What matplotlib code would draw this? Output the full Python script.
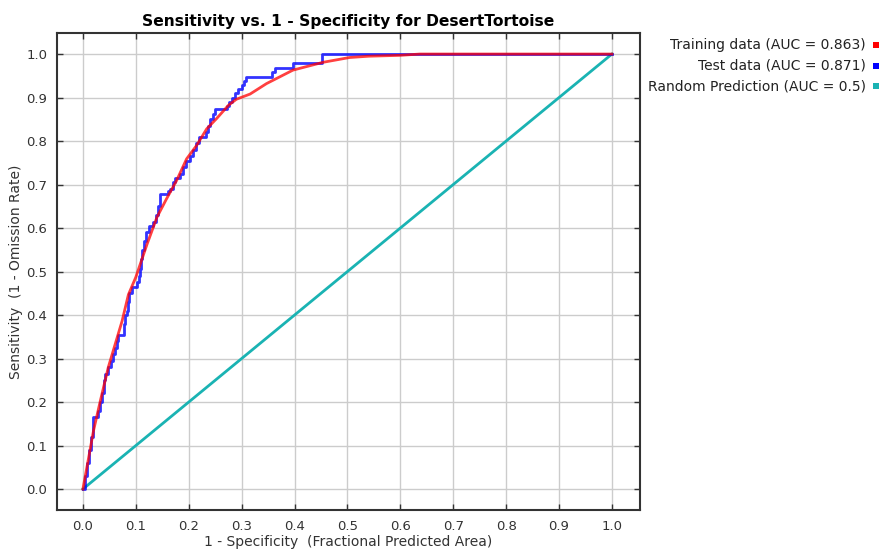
import numpy as np
import matplotlib
matplotlib.use('Agg')
import matplotlib.pyplot as plt
from matplotlib.patches import Rectangle

plt.rcParams['font.family'] = ['DejaVu Sans']

# ── Datos ────────────────────────────────────────────────────────────────────
# Test: curva escalonada (nivel y que se mantiene desde x hasta el siguiente x)
test_fpr = [0.0, 0.004, 0.008, 0.011, 0.015, 0.019, 0.02, 0.028, 0.032, 0.036,
            0.04, 0.042, 0.047, 0.053, 0.057, 0.061, 0.064, 0.067, 0.078, 0.08,
            0.083, 0.086, 0.087, 0.092, 0.102, 0.106, 0.108, 0.11, 0.112, 0.116,
            0.12, 0.124, 0.132, 0.138, 0.142, 0.145, 0.16, 0.165, 0.17, 0.174,
            0.184, 0.19, 0.195, 0.202, 0.208, 0.214, 0.219, 0.232, 0.236, 0.24,
            0.245, 0.25, 0.272, 0.276, 0.281, 0.287, 0.293, 0.3, 0.305, 0.309,
            0.357, 0.363, 0.397, 0.452, 1.0]
test_tpr = [0.0, 0.03, 0.06, 0.09, 0.12, 0.145, 0.165, 0.18, 0.2, 0.22,
            0.25, 0.265, 0.28, 0.295, 0.31, 0.325, 0.34, 0.355, 0.38, 0.4,
            0.41, 0.43, 0.45, 0.465, 0.475, 0.49, 0.505, 0.53, 0.55, 0.57,
            0.59, 0.605, 0.615, 0.63, 0.65, 0.678, 0.685, 0.69, 0.705, 0.715,
            0.725, 0.74, 0.755, 0.765, 0.78, 0.795, 0.81, 0.82, 0.835, 0.85,
            0.862, 0.873, 0.88, 0.89, 0.9, 0.91, 0.92, 0.929, 0.938, 0.948,
            0.959, 0.967, 0.98, 1.0, 1.0]

train_fpr = [0.0, 0.011, 0.02, 0.033, 0.048, 0.061, 0.074, 0.086, 0.1, 0.121,
             0.14, 0.158, 0.177, 0.196, 0.215, 0.234, 0.253, 0.275, 0.29,
             0.303, 0.316, 0.347, 0.397, 0.454, 0.504, 0.54, 0.6, 0.637, 1.0]
train_tpr = [0.0, 0.073, 0.134, 0.203, 0.28, 0.333, 0.386, 0.447, 0.487, 0.562,
             0.625, 0.667, 0.709, 0.759, 0.79, 0.828, 0.852, 0.882, 0.896,
             0.902, 0.908, 0.932, 0.963, 0.981, 0.992, 0.995, 0.997, 1.0, 1.0]

random_x = [0.0, 1.0]
random_y = [0.0, 1.0]

legend_labels = ['Training data (AUC = 0.863)',
                 'Test data (AUC = 0.871)',
                 'Random Prediction (AUC = 0.5)']
colors = ['#ff0000', '#0000ff', '#1ab3b3']

ticks = [round(0.1 * k, 1) for k in range(11)]

# ── Figura ───────────────────────────────────────────────────────────────────
fig = plt.figure(figsize=(8.82, 5.59), dpi=100)
ax = fig.add_axes([0.0646, 0.0877, 0.661, 0.853])

ax.plot(test_fpr, test_tpr, color=colors[1], lw=2, alpha=0.8, zorder=3,
        drawstyle='steps-post')
ax.plot(train_fpr, train_tpr, color=colors[0], lw=2, alpha=0.75, zorder=4)
ax.plot(random_x, random_y, color=colors[2], lw=2, zorder=2)

ax.set_xlim(-0.049, 1.053)
ax.set_ylim(-0.048, 1.048)
ax.set_xticks(ticks)
ax.set_yticks(ticks)
ax.set_xticklabels([f'{t:.1f}' for t in ticks])
ax.set_yticklabels([f'{t:.1f}' for t in ticks])
ax.tick_params(direction='in', top=True, right=True, labelsize=9.5,
               length=4, width=1, colors='#333333', pad=7)
ax.grid(color='#cccccc', lw=1)
ax.set_axisbelow(True)
for s in ax.spines.values():
    s.set_linewidth(1.5)
    s.set_color('#333333')

ax.set_title('Sensitivity vs. 1 - Specificity for DesertTortoise',
             fontsize=11.2, fontweight='bold', pad=5)
ax.set_xlabel('1 - Specificity  (Fractional Predicted Area)', fontsize=10,
              color='#333333', labelpad=2)
ax.set_ylabel('Sensitivity  (1 - Omission Rate)', fontsize=10,
              color='#333333', labelpad=2)

# leyenda a la derecha (texto alineado a la derecha + cuadrito de color)
for k, (lab, col) in enumerate(zip(legend_labels, colors)):
    ypx = 45 + k * 20.5
    yf = 1 - ypx / 559
    fig.text(866 / 882, yf, lab, ha='right', va='center', fontsize=10,
             color='#222222')
    fig.patches.append(Rectangle((873 / 882, yf - 3 / 559), 6 / 882, 6 / 559,
                                 transform=fig.transFigure, facecolor=col,
                                 edgecolor='none'))

fig.savefig('out.png', dpi=100)
